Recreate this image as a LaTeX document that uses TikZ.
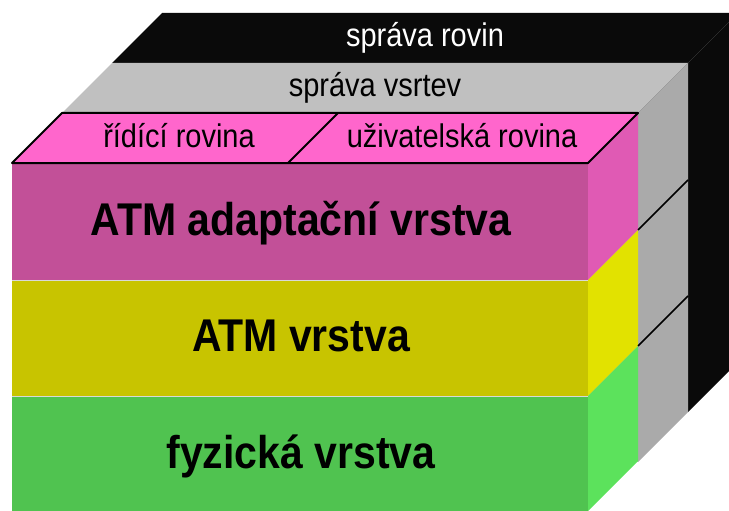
\documentclass[tikz,border=0pt]{standalone}
\usepackage{fontspec}
\setmainfont{Liberation Sans}
\newcommand{\tallsmall}[1]{\scalebox{1}[1.13]{\fontsize{29}{32}\selectfont #1}}
\newcommand{\tallbig}[1]{\scalebox{1}[1.12]{\fontsize{41}{45}\selectfont\bfseries #1}}
\begin{document}
\begin{tikzpicture}[x=1pt,y=-1pt,
  edge/.style={draw=black,line width=2pt,line join=round},
  backline/.style={draw=black,line width=1.5pt},
  seam/.style={draw=black!15,line width=0.8pt},
  toplabel/.style={inner sep=0pt,anchor=base},
  layerlabel/.style={inner sep=0pt,anchor=base}]
\definecolor{blk}{HTML}{0A0A0A}
\definecolor{grytop}{HTML}{C0C0C0}
\definecolor{gryside}{HTML}{AAAAAA}
\definecolor{pnkfront}{HTML}{C25098}
\definecolor{pnktop}{HTML}{FF66CC}
\definecolor{pnkside}{HTML}{E05AB4}
\definecolor{ylwfront}{HTML}{C8C400}
\definecolor{ylwside}{HTML}{E2E200}
\definecolor{grnfront}{HTML}{50C350}
\definecolor{grnside}{HTML}{5CE25C}
\useasboundingbox (0,0) rectangle (729,511);
\clip (0,0) rectangle (729,511);
% black box (plane management)
\fill[blk] (112,63) rectangle (688,412);
\fill[blk] (112,63) -- (688,63) -- (738,13) -- (162,13) -- cycle;
\fill[blk] (688,63) -- (738,13) -- (738,362) -- (688,412) -- cycle;
% gray box (layer management)
\fill[grytop] (62,113) rectangle (638,462);
\fill[grytop] (62,113) -- (638,113) -- (688,63) -- (112,63) -- cycle;
\fill[gryside] (638,113) -- (688,63) -- (688,412) -- (638,462) -- cycle;
% pink layer
\fill[pnkfront] (12,163) rectangle (588,280);
\fill[pnkside] (588,163) -- (638,113) -- (638,230) -- (588,280) -- cycle;
\coordinate (tl) at (12,163);
\coordinate (tr) at (588,163);
\coordinate (br) at (638,113);
\coordinate (bl) at (62,113);
\coordinate (dl) at (288,163);
\coordinate (du) at (338,113);
\fill[pnktop] (tl) -- (tr) -- (br) -- (bl) -- cycle;
\draw[edge] (tl) -- (tr) -- (br) -- (bl) -- cycle;
\draw[edge] (dl) -- (du);
% yellow layer
\fill[ylwfront] (12,280) rectangle (588,396);
\fill[ylwside] (588,280) -- (638,230) -- (638,346) -- (588,396) -- cycle;
% green layer
\fill[grnfront] (12,396) rectangle (588,511);
\fill[grnside] (588,396) -- (638,346) -- (638,461) -- (588,511) -- cycle;
% faint boundaries between layers
\draw[seam] (12,280) -- (588,280);
\draw[seam] (12,396) -- (588,396);
% back boundary lines on gray side
\coordinate (a1) at (638,230);
\coordinate (a2) at (688,180);
\coordinate (b1) at (638,346);
\coordinate (b2) at (688,296);
\draw[backline] (a1) -- (a2);
\draw[backline] (b1) -- (b2);
% labels
\node[toplabel,text=white] (rovin) at (425,47) {\tallsmall{správa rovin}};
\node[toplabel] (vsrtev) at (375,96) {\tallsmall{správa vsrtev}};
\node[toplabel] (ridici) at (179,147) {\tallsmall{řídící rovina}};
\node[toplabel] (uziv) at (462,147) {\tallsmall{uživatelská rovina}};
\node[layerlabel] (aal) at (301,235) {\tallbig{ATM adaptační vrstva}};
\node[layerlabel] (atm) at (301,351) {\tallbig{ATM vrstva}};
\node[layerlabel] (fyz) at (301,468) {\tallbig{fyzická vrstva}};
\end{tikzpicture}
\end{document}
